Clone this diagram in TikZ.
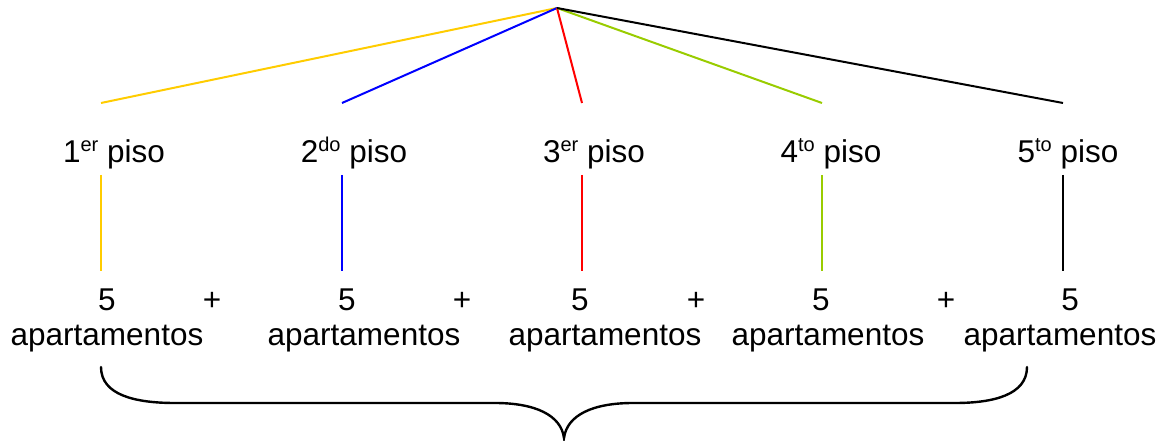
\documentclass[tikz,border=0pt]{standalone}
\usepackage{fontspec}
\setmainfont{Liberation Sans}
\definecolor{cyellow}{RGB}{255,204,0}
\definecolor{cblue}{RGB}{0,0,255}
\definecolor{cred}{RGB}{255,0,0}
\definecolor{cgreen}{RGB}{153,204,0}
\newcommand{\supr}[1]{\raisebox{11pt}{\fontsize{20}{20}\selectfont #1}}
\tikzset{
  txt/.style={inner sep=0pt, outer sep=0pt, anchor=base, font=\fontsize{31.5}{38}\selectfont},
  conn/.style={line width=2pt},
  bracepath/.style={line width=2.4pt, line cap=round}
}
\begin{document}
\begin{tikzpicture}[x=1pt,y=-1pt]
\useasboundingbox (0,0) rectangle (1165,441);
\coordinate (apex) at (557,8);
% top ends
\coordinate (t1) at (101,103);
\coordinate (t2) at (342,103);
\coordinate (t3) at (582,103);
\coordinate (t4) at (822,103);
\coordinate (t5) at (1063,103);
% vertical line ends
\coordinate (a1) at (101,175); \coordinate (b1) at (101,271);
\coordinate (a2) at (342,175); \coordinate (b2) at (342,271);
\coordinate (a3) at (582,175); \coordinate (b3) at (582,271);
\coordinate (a4) at (822,175); \coordinate (b4) at (822,271);
\coordinate (a5) at (1063,175); \coordinate (b5) at (1063,271);
% floor labels
\node[txt] (p1) at (114,163) {1\supr{er} piso};
\node[txt] (p2) at (354,163) {2\supr{do} piso};
\node[txt] (p3) at (594,163) {3\supr{er} piso};
\node[txt] (p4) at (831,163) {4\supr{to} piso};
\node[txt] (p5) at (1068,163) {5\supr{to} piso};
% numbers
\node[txt] (n1) at (107,310) {5};
\node[txt] (n2) at (347,310) {5};
\node[txt] (n3) at (580,310) {5};
\node[txt] (n4) at (821,310) {5};
\node[txt] (n5) at (1070,310) {5};
\node[txt] (s1) at (212,310) {+};
\node[txt] (s2) at (462,310) {+};
\node[txt] (s3) at (696,310) {+};
\node[txt] (s4) at (946,310) {+};
\node[txt] (ap1) at (107,345) {apartamentos};
\node[txt] (ap2) at (364,345) {apartamentos};
\node[txt] (ap3) at (605,345) {apartamentos};
\node[txt] (ap4) at (828,345) {apartamentos};
\node[txt] (ap5) at (1060,345) {apartamentos};
% connectors
\draw[conn, cyellow] (apex) -- (t1);
\draw[conn, cblue] (apex) -- (t2);
\draw[conn, cred] (apex) -- (t3);
\draw[conn, cgreen] (apex) -- (t4);
\draw[conn, black] (apex) -- (t5);
\draw[conn, cyellow] (a1) -- (b1);
\draw[conn, cblue] (a2) -- (b2);
\draw[conn, cred] (a3) -- (b3);
\draw[conn, cgreen] (a4) -- (b4);
\draw[conn, black] (a5) -- (b5);
% brace
\coordinate (bl) at (101,367);
\coordinate (br) at (1027,367);
\coordinate (btip) at (564,438);
\draw[bracepath] (bl) .. controls (101,395) and (135,403) .. (175,403) -- (495,403)
  .. controls (535,403) and (561,415) .. (btip)
  .. controls (567,415) and (593,403) .. (633,403) -- (955,403)
  .. controls (993,403) and (1027,395) .. (br);
\end{tikzpicture}
\end{document}
